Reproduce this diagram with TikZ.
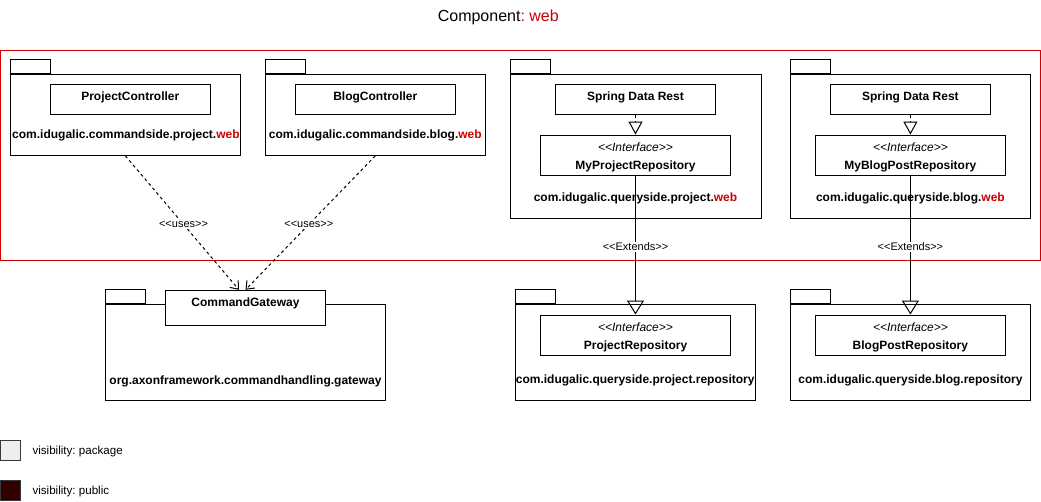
\documentclass[tikz,border=0pt]{standalone}
\usepackage{fontspec}
\setmainfont{Liberation Sans}
\usetikzlibrary{arrows.meta,calc}
\definecolor{webred}{HTML}{CC0000}
\definecolor{pkggray}{HTML}{EEEEEE}
\definecolor{pubred}{HTML}{330000}
\definecolor{legborder}{HTML}{36393D}
\newcommand{\stlt}{<\kern0pt<}
\newcommand{\stgt}{>\kern0pt>}
\newcommand{\wred}[1]{\textcolor{webred}{#1}}
\begin{document}
\frenchspacing
\begin{tikzpicture}[x=1pt,y=-1pt,line width=1pt,
  pkgbody/.style={draw,rectangle,inner sep=0pt},
  pkgtab/.style={draw,rectangle,inner sep=0pt,minimum width=40pt,minimum height=14pt,anchor=south west},
  classbox/.style={draw,fill=white,rectangle,inner sep=0pt},
  boldtxt/.style={anchor=base,inner sep=0pt,font=\fontsize{12}{14}\selectfont\bfseries},
  itxt/.style={anchor=base,inner sep=0pt,font=\fontsize{12}{14}\selectfont\itshape},
  edgelabel/.style={fill=white,inner sep=1pt,font=\fontsize{11}{13}\selectfont},
  usesarrow/.style={dash pattern=on 3pt off 3pt,-{Straight Barb[length=7pt,width=11pt]}},
  realize/.style={dash pattern=on 3pt off 3pt,-{Triangle[open,length=13pt,width=14pt]}},
  extarrow/.style={-{Triangle[open,length=14pt,width=17pt]}},
  legtxt/.style={anchor=base west,inner sep=0pt,font=\fontsize{11.6}{14}\selectfont},
]
\useasboundingbox (0,0) rectangle (1041,501);

% title
\node[anchor=base,inner sep=0pt,font=\fontsize{16}{19}\selectfont] (title) at (498.3,21.7) {Component\wred{: web}};

% component frame
\node[draw=webred,rectangle,inner sep=0pt,minimum width=1039.8pt,minimum height=209.5pt] (comp) at (520.4,155.25) {};

% packages (bodies + tabs)
\node[pkgbody,minimum width=229.3pt,minimum height=81.3pt] (p1) at (125.35,114.65) {};
\node[pkgtab] (p1tab) at (p1.north west) {};
\node[pkgbody,minimum width=220pt,minimum height=81.3pt] (p2) at (375.3,114.65) {};
\node[pkgtab] (p2tab) at (p2.north west) {};
\node[pkgbody,minimum width=251pt,minimum height=144.3pt] (p3) at (635.5,146.15) {};
\node[pkgtab] (p3tab) at (p3.north west) {};
\node[pkgbody,minimum width=239.8pt,minimum height=144.3pt] (p4) at (910.4,146.15) {};
\node[pkgtab] (p4tab) at (p4.north west) {};
\node[pkgbody,minimum width=280.4pt,minimum height=96pt] (pg) at (245.5,352.3) {};
\node[pkgtab] (pgtab) at (pg.north west) {};
\node[pkgbody,minimum width=240pt,minimum height=96pt] (p5) at (635.2,352.5) {};
\node[pkgtab] (p5tab) at (p5.north west) {};
\node[pkgbody,minimum width=239.8pt,minimum height=96pt] (p6) at (910.4,352.5) {};
\node[pkgtab] (p6tab) at (p6.north west) {};

% package labels
\node[boldtxt] (p1lbl) at (125.9,138.6) {com.idugalic.commandside.project.\wred{web}};
\node[boldtxt] (p2lbl) at (375.3,138.6) {com.idugalic.commandside.blog.\wred{web}};
\node[boldtxt] (p3lbl) at (635.5,201) {com.idugalic.queryside.project.\wred{web}};
\node[boldtxt] (p4lbl) at (910.4,201) {com.idugalic.queryside.blog.\wred{web}};
\node[boldtxt] (pglbl) at (245.5,384.3) {org.axonframework.commandhandling.gateway};
\node[boldtxt] (p5lbl) at (635.2,383.3) {com.idugalic.queryside.project.repository};
\node[boldtxt] (p6lbl) at (910.4,383.3) {com.idugalic.queryside.blog.repository};

% classes
\node[classbox,minimum width=160pt,minimum height=29.7pt] (pc) at (130.3,99.2) {};
\node[boldtxt] (pctxt) at (130.3,100) {ProjectController};
\node[classbox,minimum width=160pt,minimum height=29.7pt] (bc) at (375.3,99.2) {};
\node[boldtxt] (bctxt) at (375.3,100) {BlogController};
\node[classbox,minimum width=160pt,minimum height=29.7pt] (sd1) at (635.5,99.2) {};
\node[boldtxt] (sd1txt) at (635.5,100) {Spring Data Rest};
\node[classbox,minimum width=160pt,minimum height=29.7pt] (sd2) at (910.4,99.2) {};
\node[boldtxt] (sd2txt) at (910.4,100) {Spring Data Rest};

\node[classbox,minimum width=190pt,minimum height=40.3pt] (mpr) at (635.5,155.2) {};
\node[itxt] (mprst) at (635.5,151.6) {\stlt Interface\stgt};
\node[boldtxt] (mprtxt) at (635.5,169.6) {MyProjectRepository};
\node[classbox,minimum width=190pt,minimum height=40.3pt] (mbr) at (910.4,155.2) {};
\node[itxt] (mbrst) at (910.4,151.6) {\stlt Interface\stgt};
\node[boldtxt] (mbrtxt) at (910.4,169.6) {MyBlogPostRepository};

\node[classbox,minimum width=160.4pt,minimum height=34.7pt] (cg) at (245.5,307.65) {};
\node[boldtxt] (cgtxt) at (245.5,306.6) {CommandGateway};

\node[classbox,minimum width=190pt,minimum height=40.3pt] (pr) at (635.5,335.15) {};
\node[itxt] (prst) at (635.5,331.6) {\stlt Interface\stgt};
\node[boldtxt] (prtxt) at (635.5,349.3) {ProjectRepository};
\node[classbox,minimum width=190pt,minimum height=40.3pt] (bpr) at (910.4,335.15) {};
\node[itxt] (bprst) at (910.4,331.6) {\stlt Interface\stgt};
\node[boldtxt] (bprtxt) at (910.4,349.3) {BlogPostRepository};

% connectors
\draw[usesarrow] (p1.south) -- node[edgelabel,pos=0.512] (u1) {\stlt uses\stgt} ([xshift=-6.5pt]cg.north);
\draw[usesarrow] (p2.south) -- node[edgelabel,pos=0.512] (u2) {\stlt uses\stgt} (cg.north);
\draw[realize] (sd1.south) -- (mpr.north);
\draw[realize] (sd2.south) -- (mbr.north);
\draw[extarrow] (mpr.south) -- node[edgelabel,pos=0.511] (e1) {\stlt Extends\stgt} (pr.north);
\draw[extarrow] (mbr.south) -- node[edgelabel,pos=0.511] (e2) {\stlt Extends\stgt} (bpr.north);

% legend
\node[draw=legborder,fill=pkggray,rectangle,inner sep=0pt,minimum width=20pt,minimum height=20pt] (legpkg) at (10.5,450.2) {};
\node[legtxt] (legpkgtxt) at (32,454.2) {visibility: package};
\node[draw=legborder,fill=pubred,rectangle,inner sep=0pt,minimum width=20pt,minimum height=20pt] (legpub) at (10.5,490.7) {};
\node[legtxt] (legpubtxt) at (32,494.2) {visibility: public};
\end{tikzpicture}
\end{document}
